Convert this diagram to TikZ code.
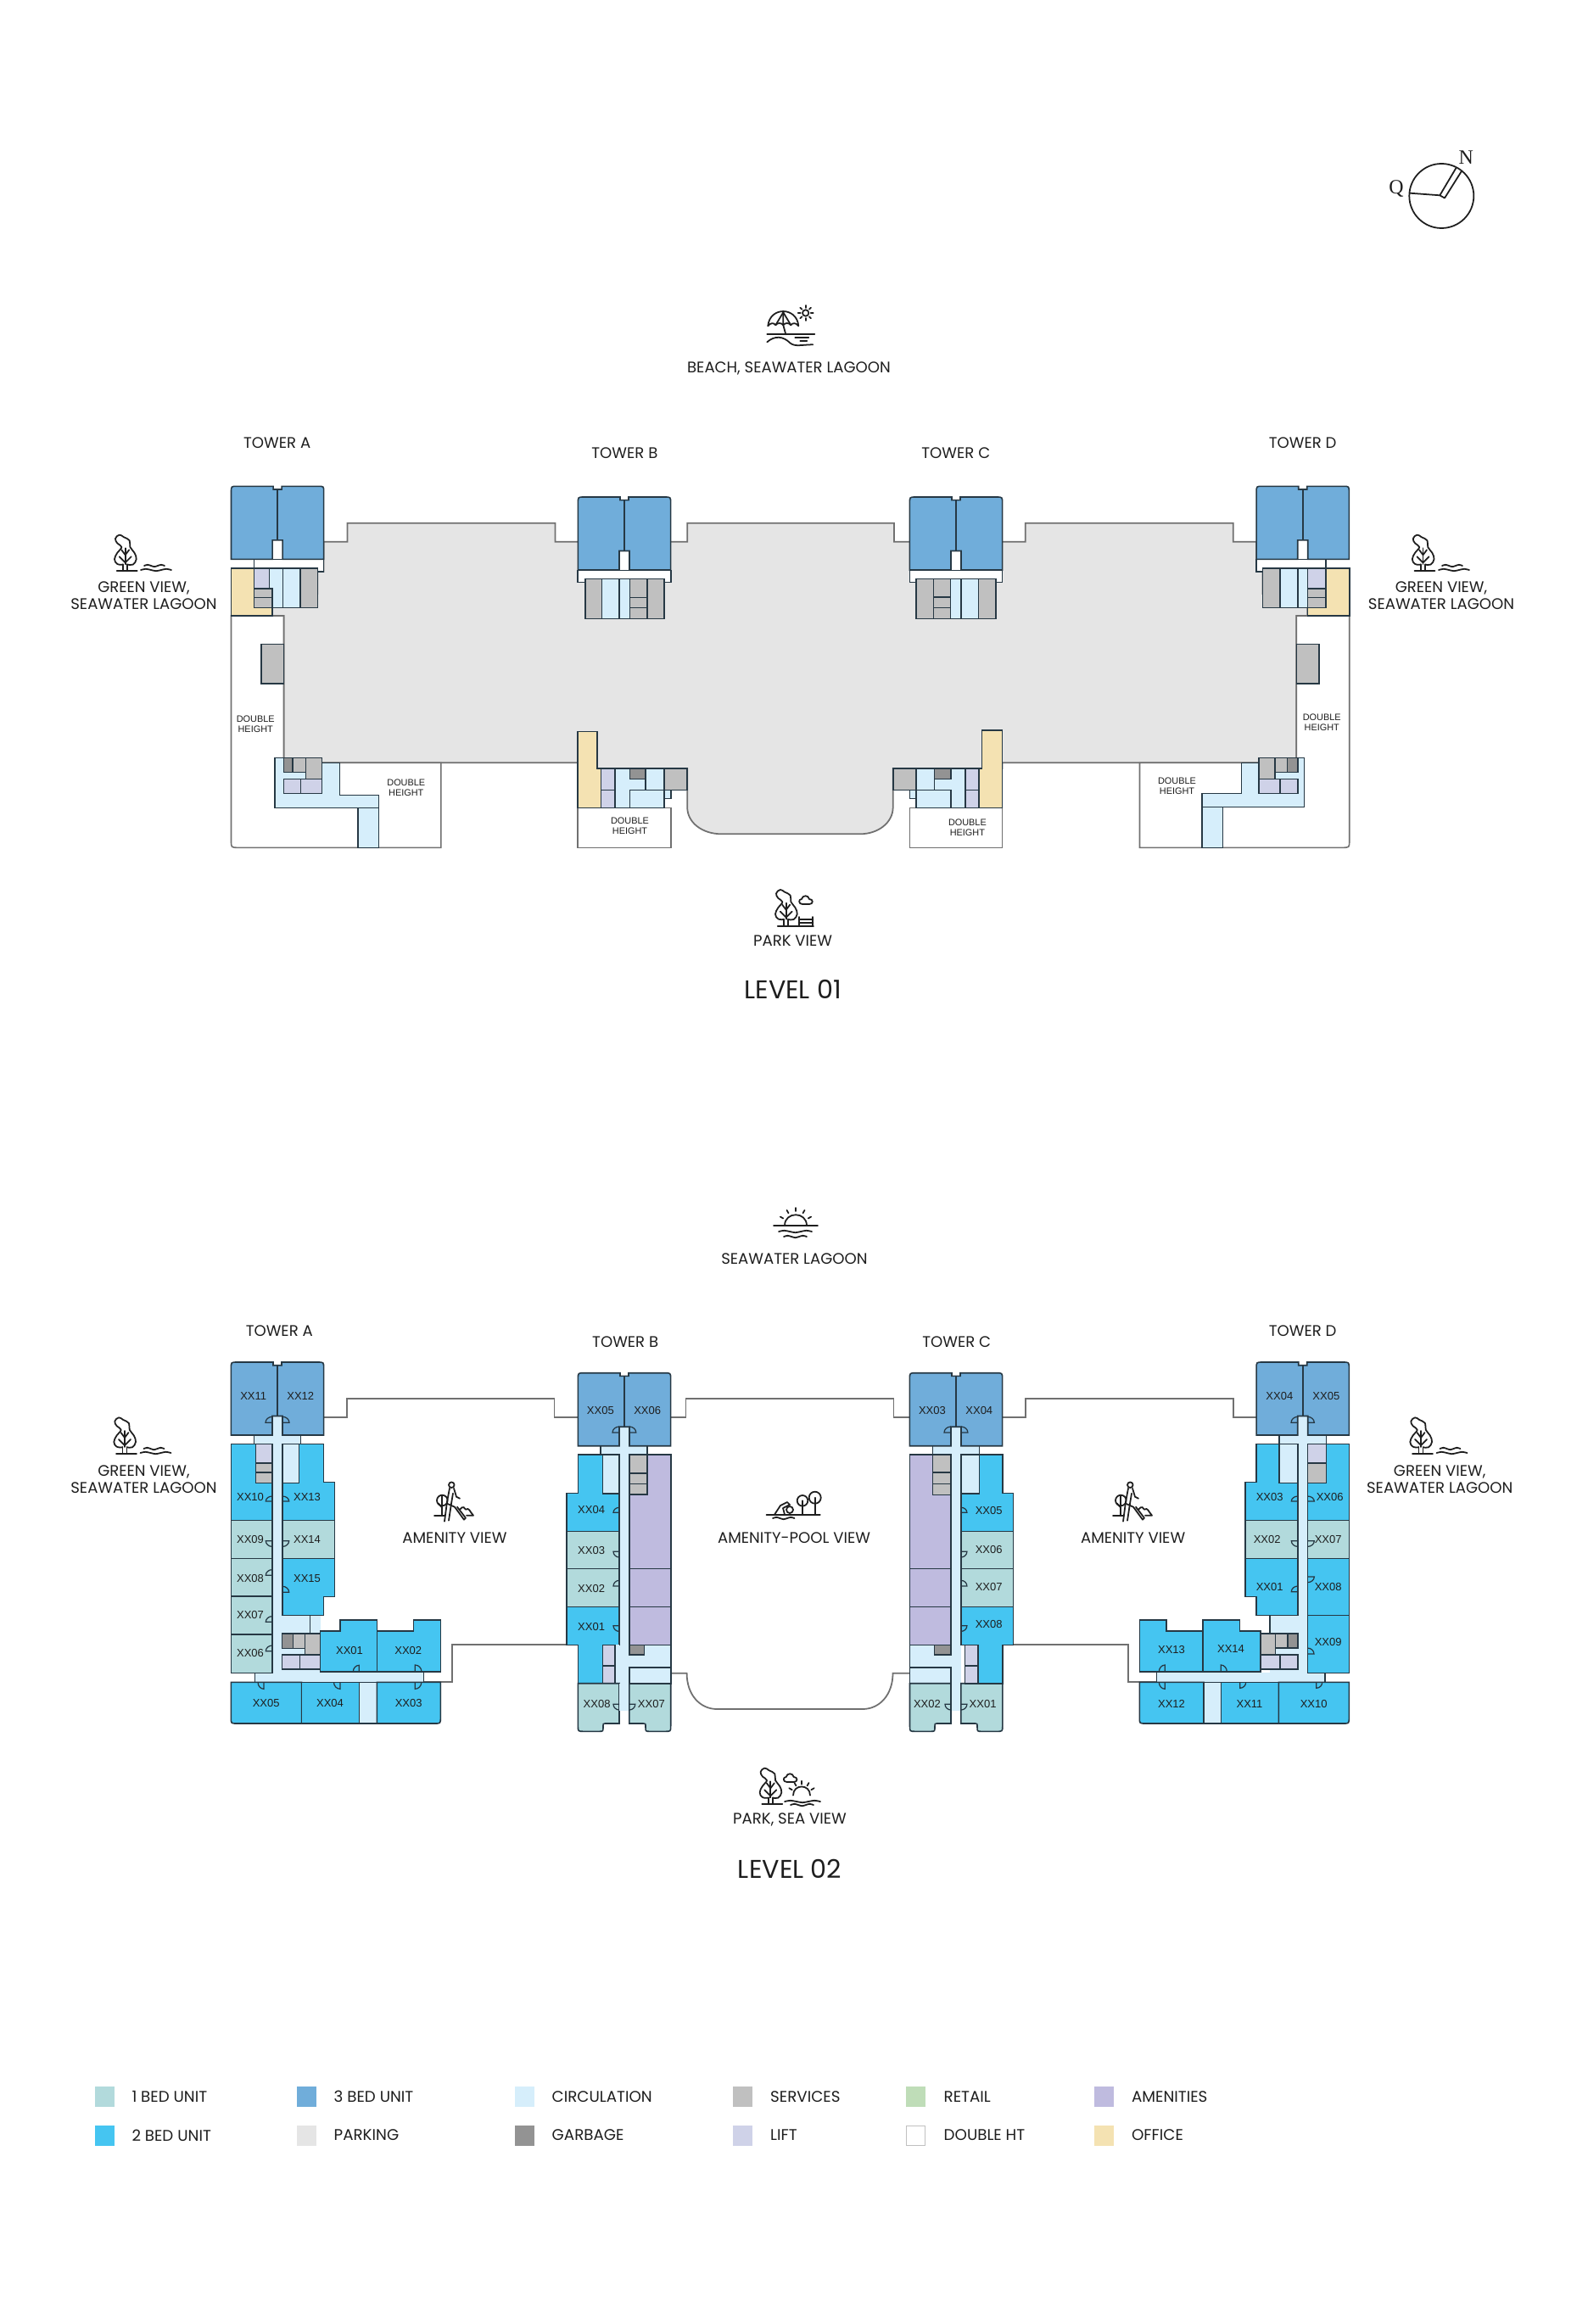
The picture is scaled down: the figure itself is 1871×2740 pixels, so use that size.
\documentclass[tikz,border=0pt]{standalone}
\usepackage{fontspec}
\setmainfont{Poppins}
\newfontfamily\unitfont{Liberation Sans}
\newfontfamily\compassfont{Liberation Serif}
\definecolor{planLine}{RGB}{38,56,68}
\definecolor{planEdge}{RGB}{112,112,112}
\definecolor{planText}{RGB}{30,30,30}
\definecolor{planOneBed}{RGB}{178,218,220}
\definecolor{planTwoBed}{RGB}{69,197,241}
\definecolor{planThreeBed}{RGB}{112,173,218}
\definecolor{planCirc}{RGB}{214,238,251}
\definecolor{planServ}{RGB}{192,192,192}
\definecolor{planGarb}{RGB}{147,147,147}
\definecolor{planLift}{RGB}{207,210,232}
\definecolor{planAmen}{RGB}{191,187,223}
\definecolor{planRetail}{RGB}{191,221,184}
\definecolor{planOffice}{RGB}{244,226,178}
\definecolor{planPark}{RGB}{229,229,229}
\tikzset{
	room/.style={draw=planLine,line width=0.45pt,line join=miter},
	bedone/.style={room,fill=planOneBed},
	bedtwo/.style={room,fill=planTwoBed},
	bedthree/.style={room,fill=planThreeBed},
	circ/.style={room,fill=planCirc},
	circfill/.style={fill=planCirc},
	serv/.style={room,fill=planServ},
	garb/.style={room,fill=planGarb},
	lift/.style={room,fill=planLift},
	amen/.style={room,fill=planAmen},
	office/.style={room,fill=planOffice},
	parking/.style={draw=planEdge,line width=0.5pt,fill=planPark},
	edgeline/.style={draw=planEdge,line width=0.5pt},
	blank/.style={draw=planEdge,line width=0.45pt,fill=white},
	door/.style={draw=planLine,line width=0.35pt},
	icon/.style={draw=planText,line width=0.5pt,line cap=round,line join=round},
	view/.style={text=planText,align=center,inner sep=0pt,font=\fontsize{5.15}{5.75}\selectfont},
	level/.style={text=planText,inner sep=0pt,font=\fontsize{8.6}{9}\selectfont},
	unit/.style={text=planText,inner sep=0pt,font=\unitfont\fontsize{3.7}{4}\selectfont},
	dbl/.style={text=planText,align=center,inner sep=0pt,font=\unitfont\fontsize{3.1}{3.4}\selectfont},
	keytext/.style={text=planText,anchor=west,inner sep=0pt,font=\fontsize{5.2}{5.5}\selectfont},
}
% Three bed block on top of every tower
\newcommand{\towerBlock}[2]{%
	\draw[bedthree,shift={(#1,#2)}] (-54.6,86) -- (-54.6,7) .. controls (-54.6,0) .. (-47.6,0) -- (-5,0) -- (-5,3.7) -- (5,3.7) -- (5,0) -- (47.6,0) .. controls (54.6,0) .. (54.6,7) -- (54.6,86) -- (6,86) -- (6,63.5) -- (-6,63.5) -- (-6,86) -- cycle;
	\draw[room,shift={(#1,#2)}] (0,3.7) -- (0,63.5);
}
% Door: hinge, leaf, wall
\newcommand{\doorMark}[6]{%
	\draw[door,shift={(#1,#2)}] (0,0) -- (#3,#4) .. controls ({#3+0.55*#5},{#4+0.55*#6}) and ({0.55*#3+#5},{0.55*#4+#6}) .. (#5,#6);
}
% Icons
\newcommand{\treeIcon}[2]{%
	\begin{scope}[shift={(#1,#2)},icon]
		\draw plot[smooth,tension=0.7] coordinates {(-2.7,-7.7) (-9.3,-8.3) (-12.7,-14) (-9.3,-21.7) (-4.3,-28.3) (-9.3,-32.7) (-11.7,-38.3) (-7,-42.7) (-1.7,-40) (5,-36) (5.7,-28.3) (10.7,-21.7) (13,-14) (9,-7.7) (3,-7.7)};
		\draw (-2.5,0) -- (-2.5,-8);
		\draw (2.5,0) -- (2.5,-8);
		\draw (0,-8) -- (0,-27);
		\draw (-7,-17) -- (0,-10) -- (7,-17);
		\draw (-4.5,-25) -- (0,-19) -- (4.5,-25);
		\draw (-10,0) -- (14,0);
	\end{scope}
}
\newcommand{\cloudIcon}[2]{%
	\draw[icon,shift={(#1,#2)}] (-4,5) .. controls (-9,5) and (-9,-1) .. (-5,-1) .. controls (-4,-6) and (3,-6) .. (4,-1) .. controls (9,-1) and (9,5) .. (4,5) -- cycle;
}
\newcommand{\waveIcon}[3]{%
	\draw[icon,shift={(#1,#2)},xscale=#3,yscale=0.6] plot[smooth] coordinates {(0,0) (5,-2) (10,0) (15,2) (20,0) (25,-2) (30,0)};
}
\newcommand{\sunRays}[5]{%
	\foreach \a in {#5} \draw[icon,shift={(#1,#2)}] ({#3*cos(\a)},{-#3*sin(\a)}) -- ({#4*cos(\a)},{-#4*sin(\a)});
}
\newcommand{\runnerIcon}[2]{%
	\begin{scope}[shift={(#1,#2)},icon]
		\draw (9.3,-17.7) circle (6.3);
		\draw (9.3,-24) -- (9.3,0);
		\draw (5,-14) -- (9.3,-9);
		\draw (0,0) -- (12,0);
		\draw (20.3,-36) circle (3.3);
		\draw (18,-32) -- (15,-16) -- (12,7);
		\draw (23,-32) -- (26,-22) -- (30,-20);
		\draw (22,-26) -- (20,-14) -- (17,6);
		\draw (15,-14) -- (24,-10) -- (35,5) -- (37,3) -- (27,-10);
		\draw (30,-7) .. controls (34,-12) and (36,-9) .. (37,-7) .. controls (41,-10) and (42,-4) .. (46,0) -- (38,0);
	\end{scope}
}
\begin{document}
\begin{tikzpicture}[x=0.01cm,y=-0.01cm]
	\useasboundingbox[fill=white] (0,0) rectangle (1871,2740);

	% Compass
	\node[inner sep=0pt,font=\compassfont\fontsize{6.8}{7}\selectfont,text=planText] (compassQ) at (1646,222.7) {Q};
	\node[inner sep=0pt,font=\compassfont\fontsize{6.8}{7}\selectfont,text=planText] (compassN) at (1728.3,186) {N};
	\draw[icon] (1699.3,231) circle (38);
	\draw[icon] (1662,227.7) -- (1697.3,230.3) -- (1716.3,198.3);
	\draw[icon] (1697.3,230.3) -- (1703,233.5) -- (1723,201.7);

	% LEVEL 01
	% Parking
	\draw[parking] (381.6,638.7) -- (409.5,638.7) -- (409.5,616.7) -- (654.5,616.7) -- (654.5,638.7) -- (681.2,638.7) -- (790.7,638.7) -- (810.2,638.7) -- (810.2,616.7) -- (1053.9,616.7) -- (1053.9,638.7) -- (1072.5,638.7) -- (1181.6,638.7) -- (1208.8,638.7) -- (1208.8,616.7) -- (1453.7,616.7) -- (1453.7,638.7) -- (1481.2,638.7) -- (1481.2,674) -- (1488.5,674) -- (1488.5,700) -- (1541.3,700) -- (1541.3,726) -- (1528.3,726) -- (1528.3,899.3) -- (1181.6,899.3) -- (1181.6,906) -- (1052.7,906) -- (1052.7,951.7) .. controls (1052.7,970) and (1035,983.3) .. (1013.9,983.3) -- (850.6,983.3) .. controls (828,983.3) and (810.2,970) .. (810.2,951.7) -- (810.2,906) -- (681.2,906) -- (681.2,899.3) -- (334.5,899.3) -- (334.5,726) -- (321,726) -- (321,700) -- (374.3,700) -- (374.3,674) -- (381.6,674) -- cycle;

	% Double height
	\draw[blank] (334.5,726) -- (272.5,726) -- (272.5,991) .. controls (272.5,999.3) .. (280.8,999.3) -- (519.8,999.3) -- (519.8,899.3) -- (334.5,899.3) -- cycle;
	\draw[blank] (1528.3,726) -- (1590.7,726) -- (1590.7,991) .. controls (1590.7,999.3) .. (1582.4,999.3) -- (1343.5,999.3) -- (1343.5,899.3) -- (1528.3,899.3) -- cycle;
	\draw[blank] (681.2,952.7) rectangle (790.7,999.3);
	\draw[blank] (1072.5,952.7) rectangle (1181.6,999.3);
	\node[dbl] (dblA1) at (301.2,853.3) {DOUBLE\\HEIGHT};
	\node[dbl] (dblA2) at (478.8,928.7) {DOUBLE\\HEIGHT};
	\node[dbl] (dblB) at (742.5,973.3) {DOUBLE\\HEIGHT};
	\node[dbl] (dblC) at (1140.4,976) {DOUBLE\\HEIGHT};
	\node[dbl] (dblD1) at (1387.5,926.7) {DOUBLE\\HEIGHT};
	\node[dbl] (dblD2) at (1558.2,851.7) {DOUBLE\\HEIGHT};

	% Tower A
	\fill[white] (321,637) rectangle (333.4,672);
	\draw[room,fill=white] (299.7,659.3) -- (381.6,659.3) -- (381.6,674) -- (374.3,674) -- (374.3,670) -- (299.7,670) -- cycle;
	\towerBlock{327.1}{573.3}
	\draw[office] (272.5,670) -- (299.7,670) -- (299.7,716.7) -- (321,716.7) -- (321,726) -- (272.5,726) -- cycle;
	\draw[circ] (317.7,670) rectangle (333.4,716.7);
	\draw[circ] (333.4,670) rectangle (354,716.7);
	\draw[serv] (354,670) rectangle (374.3,716.7);
	\draw[lift] (299.7,670) rectangle (317.7,694);
	\draw[serv] (299.7,694) rectangle (321,704.7);
	\draw[serv] (299.7,704.7) rectangle (321,716.7);
	\draw[serv] (308,759.3) rectangle (334.5,806);
	\draw[circ] (324.2,893.3) -- (379.3,893.3) -- (379.3,899.3) -- (400.7,899.3) -- (400.7,937.3) -- (446.3,937.3) -- (446.3,952.7) -- (324.2,952.7) -- cycle;
	\draw[circ] (421.8,952.7) rectangle (446.3,999.3);
	\draw[garb] (334.5,893.3) rectangle (345.2,910.7);
	\draw[serv] (345.2,893.3) rectangle (360.6,910.7);
	\draw[serv] (360.6,893.3) rectangle (379.3,918.3);
	\draw[lift] (334.5,918.3) rectangle (354.4,935.7);
	\draw[lift] (354.4,918.3) rectangle (379.3,935.7);

	% Tower B
	\fill[white] (730,649) rectangle (742,684);
	\draw[room,fill=white] (681.2,672.3) -- (790.7,672.3) -- (790.7,686.7) -- (783,686.7) -- (783,682.7) -- (689.7,682.7) -- (689.7,686.7) -- (681.2,686.7) -- cycle;
	\towerBlock{736}{586}
	\draw[serv] (689.7,682.7) rectangle (709.6,729.3);
	\draw[circ] (709.6,682.7) rectangle (729.9,729.3);
	\draw[circ] (729.9,682.7) rectangle (742.5,729.3);
	\draw[serv] (742.5,682.7) rectangle (762.8,704.3);
	\draw[serv] (742.5,704.3) rectangle (762.8,716.7);
	\draw[serv] (742.5,716.7) rectangle (762.8,729.3);
	\draw[serv] (762.8,682.7) rectangle (783,729.3);
	\draw[office] (681.2,862.7) -- (704.2,862.7) -- (704.2,906) -- (708.4,906) -- (708.4,952.7) -- (681.2,952.7) -- cycle;
	\draw[lift] (708.4,906) rectangle (724.9,931.7);
	\draw[lift] (708.4,931.7) rectangle (724.9,952.7);
	\draw[circ] (724.9,906) rectangle (783,952.7);
	\draw[garb] (742.5,906) rectangle (761.2,918.3);
	\draw[room] (761.2,918.3) -- (761.2,931.7);
	\draw[room] (783,931.7) -- (742.5,931.7) -- (742.5,952.7);
	\draw[serv] (783,906) rectangle (810.2,931.7);
	\draw[circ] (783,931.7) rectangle (790.7,941.7);

	% Tower C
	\fill[white] (1121,649) rectangle (1133,684);
	\draw[room,fill=white] (1072.5,672.3) -- (1181.6,672.3) -- (1181.6,686.7) -- (1173.9,686.7) -- (1173.9,682.7) -- (1080,682.7) -- (1080,686.7) -- (1072.5,686.7) -- cycle;
	\towerBlock{1127}{586}
	\draw[serv] (1080,682.3) rectangle (1100.4,729.3);
	\draw[serv] (1100.4,682.3) rectangle (1120.4,704);
	\draw[serv] (1100.4,704) rectangle (1120.4,716.7);
	\draw[serv] (1100.4,716.7) rectangle (1120.4,729.3);
	\draw[circ] (1120.4,682.3) rectangle (1133,729.3);
	\draw[circ] (1133,682.3) rectangle (1153.5,729.3);
	\draw[serv] (1153.5,682.3) rectangle (1173.9,729.3);
	\draw[office] (1157.6,861) -- (1181.6,861) -- (1181.6,952.7) -- (1153.9,952.7) -- (1153.9,906) -- (1157.6,906) -- cycle;
	\draw[lift] (1138,906) rectangle (1153.9,931.7);
	\draw[lift] (1138,931.7) rectangle (1153.9,952.7);
	\draw[circ] (1080,906) rectangle (1138,952.7);
	\draw[garb] (1101.6,906) rectangle (1120.8,918.3);
	\draw[room] (1101.6,918.3) -- (1101.6,931.7);
	\draw[room] (1080,931.7) -- (1120.8,931.7) -- (1120.8,952.7);
	\draw[serv] (1052.7,906) rectangle (1080,931.7);
	\draw[circ] (1072.5,931.7) rectangle (1080,941.7);

	% Tower D
	\fill[white] (1529.9,637) rectangle (1541.3,672);
	\draw[room,fill=white] (1481.2,659.3) -- (1563.1,659.3) -- (1563.1,670) -- (1488.5,670) -- (1488.5,674) -- (1481.2,674) -- cycle;
	\towerBlock{1535.7}{573.3}
	\draw[office] (1590.7,670) -- (1563.1,670) -- (1563.1,716.7) -- (1541.3,716.7) -- (1541.3,726) -- (1590.7,726) -- cycle;
	\draw[serv] (1488.5,670) rectangle (1508.8,716.7);
	\draw[circ] (1508.8,670) rectangle (1529.9,716.7);
	\draw[circ] (1529.9,670) rectangle (1541.3,716.7);
	\draw[lift] (1541.3,670) rectangle (1563.1,694);
	\draw[serv] (1541.3,694) rectangle (1563.1,704.7);
	\draw[serv] (1541.3,704.7) rectangle (1563.1,716.7);
	\draw[serv] (1528.3,759.3) rectangle (1554.7,806);
	\draw[circ] (1537.5,893.3) -- (1484,893.3) -- (1484,899.3) -- (1463.6,899.3) -- (1463.6,935.7) -- (1417,935.7) -- (1417,951.3) -- (1537.5,951.3) -- cycle;
	\draw[circ] (1417,951.3) rectangle (1441.4,999.3);
	\draw[serv] (1484,893.3) rectangle (1503,918.3);
	\draw[serv] (1503,893.3) rectangle (1517.6,910.7);
	\draw[garb] (1517.6,893.3) rectangle (1529.9,910.7);
	\draw[lift] (1484,918.3) rectangle (1508.8,935.7);
	\draw[lift] (1508.8,918.3) rectangle (1530.2,935.7);

	% Set names
	\node[view] (nameA1) at (326.7,522.4) {TOWER A};
	\node[view] (nameB1) at (736.4,534.6) {TOWER B};
	\node[view] (nameC1) at (1126.8,534.6) {TOWER C};
	\node[view] (nameD1) at (1535.6,522.4) {TOWER D};
	\node[view] (viewTop1) at (930,434) {BEACH, SEAWATER LAGOON};
	\node[view] (viewLeft1) at (169.5,702) {GREEN VIEW,\\SEAWATER LAGOON};
	\node[view] (viewRight1) at (1699,702) {GREEN VIEW,\\SEAWATER LAGOON};
	\node[view] (viewBottom1) at (934.6,1109.3) {PARK VIEW};
	\node[level] (level1) at (934.6,1166) {LEVEL 01};

	% View icons
	\treeIcon{147.7}{673.3}
	\waveIcon{166}{672}{1.2}
	\waveIcon{170}{667}{0.8}
	\treeIcon{1677.5}{673.3}
	\waveIcon{1696}{672}{1.2}
	\waveIcon{1700}{667}{0.8}
	\treeIcon{926.7}{1091.7}
	\cloudIcon{950}{1061}
	\draw[icon] (941.5,1084) -- (958.5,1084);
	\draw[icon] (941.5,1088) -- (958.5,1088);
	\draw[icon] (942,1081) -- (942,1091.7);
	\draw[icon] (958,1081) -- (958,1091.7);
	\draw[icon] (935,1091.7) -- (959,1091.7);
	% Beach umbrella
	\begin{scope}[shift={(923.3,394.3)},icon]
		\draw (-18,-10) .. controls (-16,-33) and (16,-33) .. (18,-10);
		\draw (-18,-10) .. controls (-15,-14) and (-11,-14) .. (-9,-11) .. controls (-7,-14) and (-2,-14) .. (0,-11) .. controls (2,-14) and (7,-14) .. (9,-11) .. controls (11,-14) and (15,-14) .. (18,-10);
		\draw (-9,-11) -- (0,-26) -- (9,-11);
		\draw (0,-26) -- (0,-11) -- (3,0);
		\draw (-19,0) -- (37,0);
		\draw (26.4,-25.3) circle (3.7);
		\draw (-19,9) .. controls (-10,1) and (0,2) .. (8,10) .. controls (14,15) and (22,12) .. (35,12);
		\draw (14,4) -- (30,4);
		\draw (20,8) -- (28,8);
	\end{scope}
	\sunRays{949.7}{369}{6}{9}{0,45,90,135,180,225,270,315}

	% LEVEL 02
	% Outlines
	\draw[edgeline] (381.7,1670.7) -- (409,1670.7) -- (409,1649) -- (653.6,1649) -- (653.6,1670.7) -- (681.4,1670.7);
	\draw[edgeline] (790.7,1670.7) -- (808.6,1670.7) -- (808.6,1649) -- (1053.6,1649) -- (1053.6,1670.7) -- (1072.5,1670.7);
	\draw[edgeline] (1181.8,1670.7) -- (1209,1670.7) -- (1209,1649) -- (1454.3,1649) -- (1454.3,1670.7) -- (1481,1670.7);
	\draw[edgeline] (499.3,1983.3) -- (532.7,1983.3) -- (532.7,1939.3) -- (668.2,1939.3);
	\draw[edgeline] (1194.6,1939.3) -- (1330,1939.3) -- (1330,1983.3) -- (1363.3,1983.3);
	\draw[edgeline] (790.7,1972.7) -- (809.6,1972.7) .. controls (809.6,1998) and (825,2015) .. (845.4,2015) -- (1016.8,2015) .. controls (1037,2015) and (1052.5,1998) .. (1052.5,1972.7) -- (1072.5,1972.7);

	% Tower A
	\fill[circfill] (321,1669) rectangle (333,1983.3);
	\fill[circfill] (299.3,1691.7) rectangle (354.3,1702.3);
	\fill[circfill] (300.7,1972.3) rectangle (499.3,1983.3);
	\fill[circfill] (333,1904.3) rectangle (377.7,1972.3);
	\draw[room] (299.3,1691.7) -- (299.3,1702.3);
	\draw[room] (354.3,1691.7) -- (354.3,1702.3);
	\draw[room] (300.7,1972.3) -- (300.7,1983.3);
	\draw[room] (499.3,1972.3) -- (499.3,1983.3);
	\draw[room] (365.7,1904.3) -- (365.7,1925.7);
	\towerBlock{327}{1606}
	\draw[bedtwo] (272.3,1702.3) rectangle (321,1792.3);
	\draw[lift] (301.3,1702.3) rectangle (321,1725);
	\draw[serv] (301.3,1725) rectangle (321,1736);
	\draw[serv] (301.3,1736) rectangle (321,1748.3);
	\draw[bedone] (272.3,1792.3) rectangle (321,1837.3);
	\draw[bedone] (272.3,1837.3) rectangle (321,1882);
	\draw[bedone] (272.3,1882) rectangle (321,1926.7);
	\draw[bedone] (272.3,1926.7) rectangle (321,1972.3);
	\draw[bedtwo] (333,1748.3) -- (352.7,1748.3) -- (352.7,1702.3) -- (381.7,1702.3) -- (381.7,1747.3) -- (394.7,1747.3) -- (394.7,1792.3) -- (333,1792.3) -- cycle;
	\draw[circ] (333,1702.3) rectangle (352.7,1748.3);
	\draw[bedone] (333,1792.3) rectangle (394.7,1837.3);
	\draw[bedtwo] (333,1837.3) -- (394.7,1837.3) -- (394.7,1882.3) -- (381.7,1882.3) -- (381.7,1904.3) -- (333,1904.3) -- cycle;
	\draw[garb] (332.3,1925.7) rectangle (345.7,1943.3);
	\draw[serv] (345.7,1925.7) rectangle (359.3,1943.3);
	\draw[serv] (359.3,1925.7) rectangle (377.7,1950.7);
	\draw[lift] (332.3,1950.7) rectangle (353.7,1967.7);
	\draw[lift] (353.7,1950.7) rectangle (377.7,1967.7);
	\draw[bedtwo] (377.7,1922.7) -- (401,1922.7) -- (401,1909.7) -- (444.7,1909.7) -- (444.7,1971) -- (377.7,1971) -- cycle;
	\draw[bedtwo] (444.7,1922.7) -- (487.7,1922.7) -- (487.7,1909.7) -- (519.3,1909.7) -- (519.3,1971) -- (444.7,1971) -- cycle;
	\draw[bedtwo] (355.7,1983.3) -- (272.3,1983.3) -- (272.3,2025) .. controls (272.3,2032) .. (279.3,2032) -- (355.7,2032) -- cycle;
	\draw[bedtwo] (355.7,1983.3) rectangle (423.3,2032);
	\draw[circ] (423.3,1983.3) rectangle (444.3,2032);
	\draw[bedtwo] (444.3,1983.3) -- (519.3,1983.3) -- (519.3,2025) .. controls (519.3,2032) .. (512.3,2032) -- (444.3,2032) -- cycle;
	\doorMark{321}{1677.3}{-8}{0}{0}{-7}
	\doorMark{333}{1677.3}{8}{0}{0}{-7}
	\doorMark{321}{1770}{-7.7}{0}{0}{-6}
	\doorMark{333}{1770}{7.7}{0}{0}{-6}
	\doorMark{321}{1816.7}{-7.7}{0}{0}{6.7}
	\doorMark{333}{1816.7}{7.7}{0}{0}{6.7}
	\doorMark{321}{1857.3}{-7.7}{0}{0}{-6.7}
	\doorMark{333}{1877.3}{7.7}{0}{0}{-7}
	\doorMark{321}{1912.3}{-7.7}{0}{0}{-6.7}
	\doorMark{321}{1946.7}{-7.7}{0}{0}{-6.7}
	\doorMark{423.3}{1971}{0}{-7.7}{-7}{0}
	\doorMark{489.3}{1971}{0}{-8}{7.7}{0}
	\doorMark{311}{1983.3}{0}{8}{-7}{0}
	\doorMark{401}{1983.3}{0}{8}{-7.5}{0}
	\doorMark{489.3}{1983.3}{0}{8}{7.5}{0}
	\node[unit] (a11) at (298.7,1646) {XX11};
	\node[unit] (a12) at (354.3,1646) {XX12};
	\node[unit] (a10) at (295,1765) {XX10};
	\node[unit] (a13) at (362,1765) {XX13};
	\node[unit] (a09) at (295,1815) {XX09};
	\node[unit] (a14) at (362,1815) {XX14};
	\node[unit] (a08) at (295,1860.7) {XX08};
	\node[unit] (a15) at (362,1860.7) {XX15};
	\node[unit] (a07) at (295,1904.3) {XX07};
	\node[unit] (a06) at (295,1949) {XX06};
	\node[unit] (a01) at (412,1945.7) {XX01};
	\node[unit] (a02) at (481.3,1945.7) {XX02};
	\node[unit] (a05) at (313.7,2007.7) {XX05};
	\node[unit] (a04) at (389,2007.7) {XX04};
	\node[unit] (a03) at (481.7,2007.7) {XX03};

	% Tower B
	\fill[circfill] (730,1681.7) rectangle (741.8,2017.3);
	\fill[circfill] (708.2,1704.3) rectangle (763.2,1715);
	\draw[room] (708.2,1704.3) -- (708.2,1715);
	\draw[room] (763.2,1704.3) -- (763.2,1715);
	\towerBlock{736}{1618.7}
	\draw[circ] (710.4,1715) rectangle (730,1761);
	\draw[bedtwo] (681.4,1715) -- (710.4,1715) -- (710.4,1761) -- (730,1761) -- (730,1805.3) -- (668.2,1805.3) -- (668.2,1760.3) -- (681.4,1760.3) -- cycle;
	\draw[bedone] (668.2,1805.3) rectangle (730,1849.3);
	\draw[bedone] (668.2,1849.3) rectangle (730,1894.3);
	\draw[bedtwo] (668.2,1894.3) -- (730,1894.3) -- (730,1939.3) -- (710.4,1939.3) -- (710.4,1984.7) -- (681.4,1984.7) -- (681.4,1939.3) -- (668.2,1939.3) -- cycle;
	\fill[circfill] (725,1939.3) rectangle (730,1984.7);
	\draw[lift] (710.4,1939.3) rectangle (725,1964);
	\draw[lift] (710.4,1964) rectangle (725,1984.7);
	\draw[bedone] (730,1984.7) -- (730,2032) -- (713.3,2032) .. controls (711,2032) .. (711,2036) .. controls (711,2041.3) .. (706,2041.3) -- (688,2041.3) .. controls (681.4,2041.3) .. (681.4,2035) -- (681.4,1984.7) -- cycle;
	\fill[circfill] (730,1984.7) rectangle (741.8,2017.3);
	\draw[bedone] (741.8,1984.7) -- (741.8,2032) -- (758.5,2032) .. controls (761,2032) .. (761,2036) .. controls (761,2041.3) .. (766,2041.3) -- (784,2041.3) .. controls (790.7,2041.3) .. (790.7,2035) -- (790.7,1984.7) -- cycle;
	\draw[amen] (741.8,1715) rectangle (790.7,1849.3);
	\draw[amen] (741.8,1849.3) rectangle (790.7,1894.3);
	\draw[amen] (741.8,1894.3) rectangle (790.7,1939.3);
	\draw[serv] (741.8,1715) rectangle (763.2,1736.7);
	\draw[serv] (741.8,1736.7) rectangle (763.2,1749.3);
	\draw[serv] (741.8,1749.3) rectangle (763.2,1761.7);
	\draw[circ] (759.6,1939.3) rectangle (790.7,1965.7);
	\fill[circfill] (741.8,1951) rectangle (759.6,1965.7);
	\draw[garb] (741.8,1939.3) rectangle (759.6,1951);
	\draw[circ] (741.8,1965.7) rectangle (790.7,1984.7);
	\doorMark{730}{1689}{-8}{0}{0}{-7}
	\doorMark{741.8}{1689}{8}{0}{0}{-7}
	\doorMark{730}{1783.3}{-7}{0}{0}{-6}
	\doorMark{730}{1829.3}{-7}{0}{0}{6.7}
	\doorMark{730}{1870}{-7}{0}{0}{-6.7}
	\doorMark{730}{1916.7}{-7}{0}{0}{6.7}
	\doorMark{730}{2009.3}{-7}{0}{0}{6.7}
	\doorMark{741.8}{2009.3}{7}{0}{0}{6.7}
	\node[unit] (b05) at (707.9,1662.7) {XX05};
	\node[unit] (b06) at (763.2,1662.7) {XX06};
	\node[unit] (b04) at (697.1,1780.3) {XX04};
	\node[unit] (b03) at (697.1,1827.7) {XX03};
	\node[unit] (b02) at (697.1,1872.7) {XX02};
	\node[unit] (b01) at (697.1,1918) {XX01};
	\node[unit] (b08) at (703.6,2009.3) {XX08};
	\node[unit] (b07) at (767.9,2009.3) {XX07};

	% Tower C
	\fill[circfill] (1121,1681.7) rectangle (1132.9,2017.3);
	\fill[circfill] (1099.6,1704.3) rectangle (1154.6,1715);
	\draw[room] (1099.6,1704.3) -- (1099.6,1715);
	\draw[room] (1154.6,1704.3) -- (1154.6,1715);
	\towerBlock{1127}{1618.7}
	\draw[amen] (1072.5,1715) rectangle (1121,1849.3);
	\draw[amen] (1072.5,1849.3) rectangle (1121,1894.3);
	\draw[amen] (1072.5,1894.3) rectangle (1121,1939.3);
	\draw[serv] (1099.6,1715) rectangle (1121,1736);
	\draw[serv] (1099.6,1736) rectangle (1121,1749.3);
	\draw[serv] (1099.6,1749.3) rectangle (1121,1762.3);
	\draw[circ] (1072.5,1939.3) rectangle (1101.4,1965.7);
	\fill[circfill] (1101.4,1951) rectangle (1121,1965.7);
	\draw[garb] (1101.4,1939.3) rectangle (1121,1951);
	\draw[circ] (1072.5,1965.7) rectangle (1121,1984.7);
	\draw[bedone] (1121,1984.7) -- (1121,2032) -- (1104.3,2032) .. controls (1102,2032) .. (1102,2036) .. controls (1102,2041.3) .. (1097,2041.3) -- (1079,2041.3) .. controls (1072.5,2041.3) .. (1072.5,2035) -- (1072.5,1984.7) -- cycle;
	\draw[bedone] (1132.9,1984.7) -- (1132.9,2032) -- (1149.6,2032) .. controls (1152,2032) .. (1152,2036) .. controls (1152,2041.3) .. (1157,2041.3) -- (1175,2041.3) .. controls (1181.8,2041.3) .. (1181.8,2035) -- (1181.8,1984.7) -- cycle;
	\draw[bedtwo] (1132.9,1761) -- (1154.6,1761) -- (1154.6,1715) -- (1181.8,1715) -- (1181.8,1760.3) -- (1194.6,1760.3) -- (1194.6,1805.3) -- (1132.9,1805.3) -- cycle;
	\draw[circ] (1132.9,1715) rectangle (1154.6,1761);
	\draw[bedone] (1132.9,1805.3) rectangle (1194.6,1849.3);
	\draw[bedone] (1132.9,1849.3) rectangle (1194.6,1894.3);
	\draw[bedtwo] (1132.9,1894.3) -- (1194.6,1894.3) -- (1194.6,1939.3) -- (1181.8,1939.3) -- (1181.8,1984.7) -- (1153.2,1984.7) -- (1153.2,1939.3) -- (1132.9,1939.3) -- cycle;
	\draw[lift] (1137.5,1939.3) rectangle (1153.2,1964);
	\draw[lift] (1137.5,1964) rectangle (1153.2,1984.7);
	\doorMark{1121}{1689}{-8}{0}{0}{-7}
	\doorMark{1132.9}{1689}{8}{0}{0}{-7}
	\doorMark{1132.9}{1783.3}{7}{0}{0}{-6}
	\doorMark{1132.9}{1829.3}{7}{0}{0}{6.7}
	\doorMark{1132.9}{1870}{7}{0}{0}{-6.7}
	\doorMark{1132.9}{1916.7}{7}{0}{0}{6.7}
	\doorMark{1121}{2009.3}{-7}{0}{0}{6.7}
	\doorMark{1132.9}{2009.3}{7}{0}{0}{6.7}
	\node[unit] (c03) at (1098.9,1662.7) {XX03};
	\node[unit] (c04) at (1154.3,1662.7) {XX04};
	\node[unit] (c05) at (1165.7,1781.3) {XX05};
	\node[unit] (c06) at (1165.7,1826.7) {XX06};
	\node[unit] (c07) at (1165.7,1870.7) {XX07};
	\node[unit] (c08) at (1165.7,1915) {XX08};
	\node[unit] (c02) at (1092.9,2009.3) {XX02};
	\node[unit] (c01) at (1158.6,2009.3) {XX01};

	% Tower D
	\fill[circfill] (1530,1669) rectangle (1541.3,1983.3);
	\fill[circfill] (1508,1691.7) rectangle (1563.3,1702.3);
	\fill[circfill] (1363.3,1972.3) rectangle (1561.7,1983.3);
	\fill[circfill] (1496.7,1904.3) rectangle (1530,1972.3);
	\draw[room] (1508,1691.7) -- (1508,1702.3);
	\draw[room] (1563.3,1691.7) -- (1563.3,1702.3);
	\draw[room] (1363.3,1972.3) -- (1363.3,1983.3);
	\draw[room] (1561.7,1972.3) -- (1561.7,1983.3);
	\draw[room] (1496.7,1904.3) -- (1496.7,1925.7);
	\towerBlock{1535.7}{1606}
	\draw[bedtwo] (1481,1702.3) -- (1508,1702.3) -- (1508,1748.3) -- (1530,1748.3) -- (1530,1792.3) -- (1468,1792.3) -- (1468,1747.3) -- (1481,1747.3) -- cycle;
	\draw[circ] (1508,1702.3) rectangle (1530,1748.3);
	\draw[bedone] (1468,1792.3) rectangle (1530,1837.3);
	\draw[bedtwo] (1468,1837.3) -- (1530,1837.3) -- (1530,1904.3) -- (1481,1904.3) -- (1481,1882.3) -- (1468,1882.3) -- cycle;
	\draw[bedtwo] (1541.3,1702.3) rectangle (1590.3,1792.3);
	\draw[lift] (1541.3,1702.3) rectangle (1563.3,1725);
	\draw[serv] (1541.3,1725) rectangle (1563.3,1748.3);
	\draw[bedone] (1541.3,1792.3) rectangle (1590.3,1837.3);
	\draw[bedtwo] (1541.3,1837.3) rectangle (1590.3,1904.3);
	\draw[bedtwo] (1541.3,1904.3) rectangle (1590.3,1972.3);
	\draw[serv] (1485.7,1925.7) rectangle (1503.3,1950.7);
	\draw[serv] (1503.3,1925.7) rectangle (1517.7,1943);
	\draw[garb] (1517.7,1925.7) rectangle (1530,1943);
	\draw[lift] (1485.7,1950.7) rectangle (1508.7,1967.7);
	\draw[lift] (1508.7,1950.7) rectangle (1530,1967.7);
	\draw[bedtwo] (1343.3,1909.7) -- (1375,1909.7) -- (1375,1922.7) -- (1417.7,1922.7) -- (1417.7,1971) -- (1343.3,1971) -- cycle;
	\draw[bedtwo] (1417.7,1909.7) -- (1461.3,1909.7) -- (1461.3,1922.7) -- (1485.7,1922.7) -- (1485.7,1971) -- (1417.7,1971) -- cycle;
	\draw[bedtwo] (1419,1983.3) -- (1343.3,1983.3) -- (1343.3,2025) .. controls (1343.3,2032) .. (1350.3,2032) -- (1419,2032) -- cycle;
	\draw[circ] (1419,1983.3) rectangle (1439.3,2032);
	\draw[bedtwo] (1439.3,1983.3) rectangle (1507.3,2032);
	\draw[bedtwo] (1507.3,1983.3) -- (1590.3,1983.3) -- (1590.3,2025) .. controls (1590.3,2032) .. (1583.3,2032) -- (1507.3,2032) -- cycle;
	\doorMark{1530}{1677.3}{-8}{0}{0}{-7}
	\doorMark{1541.3}{1677.3}{8}{0}{0}{-7}
	\doorMark{1530}{1770}{-7.7}{0}{0}{-6}
	\doorMark{1541.3}{1770}{8}{0}{0}{-6}
	\doorMark{1530}{1816.7}{-7.7}{0}{0}{6.7}
	\doorMark{1541.3}{1816.7}{8}{0}{0}{6.7}
	\doorMark{1530}{1876.7}{-7.7}{0}{0}{-6.7}
	\doorMark{1541.3}{1859}{8}{0}{0}{6.7}
	\doorMark{1541.3}{1950}{7.7}{0}{0}{-7}
	\doorMark{1373.3}{1971}{0}{-8}{-7}{0}
	\doorMark{1439.3}{1971}{0}{-8}{7}{0}
	\doorMark{1373.3}{1983.3}{0}{8}{-7}{0}
	\doorMark{1461.7}{1983.3}{0}{7}{7}{0}
	\doorMark{1551.7}{1983.3}{0}{7}{7}{0}
	\node[unit] (d04) at (1508.3,1646) {XX04};
	\node[unit] (d05) at (1563.3,1646) {XX05};
	\node[unit] (d03) at (1496.7,1765) {XX03};
	\node[unit] (d06) at (1567.7,1765) {XX06};
	\node[unit] (d02) at (1493.7,1815) {XX02};
	\node[unit] (d07) at (1565.7,1815) {XX07};
	\node[unit] (d01) at (1496.7,1870.7) {XX01};
	\node[unit] (d08) at (1565.7,1870.7) {XX08};
	\node[unit] (d09) at (1565.7,1936.3) {XX09};
	\node[unit] (d13) at (1381,1945.3) {XX13};
	\node[unit] (d14) at (1451,1944) {XX14};
	\node[unit] (d12) at (1381,2009) {XX12};
	\node[unit] (d11) at (1473,2009) {XX11};
	\node[unit] (d10) at (1548.7,2009) {XX10};

	% Set names
	\node[view] (nameA2) at (329.3,1568.8) {TOWER A};
	\node[view] (nameB2) at (737.2,1582) {TOWER B};
	\node[view] (nameC2) at (1127.7,1582) {TOWER C};
	\node[view] (nameD2) at (1535.6,1568.8) {TOWER D};
	\node[view] (viewTop2) at (936.4,1484) {SEAWATER LAGOON};
	\node[view] (viewLeft2) at (169.5,1744) {GREEN VIEW,\\SEAWATER LAGOON};
	\node[view] (viewRight2) at (1697.2,1744) {GREEN VIEW,\\SEAWATER LAGOON};
	\node[view] (viewAmenA) at (536,1812.7) {AMENITY VIEW};
	\node[view] (viewPool) at (936,1812.7) {AMENITY-POOL VIEW};
	\node[view] (viewAmenD) at (1335.6,1812.7) {AMENITY VIEW};
	\node[view] (viewBottom2) at (931,2145) {PARK, SEA VIEW};
	\node[level] (level2) at (931,2203.8) {LEVEL 02};

	% View icons
	\treeIcon{147}{1714}
	\waveIcon{165.5}{1713}{1.2}
	\waveIcon{169.5}{1708}{0.8}
	\treeIcon{1675}{1714}
	\waveIcon{1693.5}{1713}{1.2}
	\waveIcon{1697.5}{1708}{0.8}
	\runnerIcon{512}{1786.7}
	\runnerIcon{1312}{1786.7}
	% Sunset
	\draw[icon] (925,1445) .. controls (925,1428) and (951,1428) .. (951,1445);
	\draw[icon] (912,1445) -- (964,1445);
	\sunRays{938}{1445}{17}{21}{30,60,90,120,150}
	\waveIcon{918}{1452}{1.3}
	\waveIcon{924}{1458}{0.9}
	% Swimmer and trees
	\draw[icon] (903.6,1785.7) -- (966.8,1785.7);
	\draw[icon] (946,1769.3) circle (6.3);
	\draw[icon] (946,1769.3) -- (946,1785.7);
	\draw[icon] (960.7,1765.7) circle (7);
	\draw[icon] (960.7,1765.7) -- (960.7,1785.7);
	\draw[icon] (931,1780) circle (4);
	\draw[icon] (913,1785.7) -- (920,1775) -- (928,1771) -- (931,1774) -- (923,1778) -- (925,1785.7);
	\waveIcon{911}{1790}{0.85}
	% Park and sea
	\treeIcon{908.3}{2127.3}
	\cloudIcon{931.7}{2096}
	\draw[icon] (935,2116.7) .. controls (935,2103) and (955,2103) .. (955,2116.7);
	\sunRays{945}{2116.7}{13}{17}{30,60,90,120,150}
	\waveIcon{925}{2124}{1.4}
	\waveIcon{932}{2128}{0.9}

	% Legend
	\fill[planOneBed] (112,2460) rectangle (135,2484);
	\fill[planThreeBed] (350.4,2460) rectangle (373.4,2484);
	\fill[planCirc] (606.6,2460) rectangle (629.6,2484);
	\fill[planServ] (863.7,2460) rectangle (886.7,2484);
	\fill[planRetail] (1068.2,2460) rectangle (1091.2,2484);
	\fill[planAmen] (1289.6,2460) rectangle (1312.6,2484);
	\fill[planTwoBed] (112,2505.7) rectangle (135,2529.7);
	\fill[planPark] (350.4,2505.7) rectangle (373.4,2529.7);
	\fill[planGarb] (606.6,2505.7) rectangle (629.6,2529.7);
	\fill[planLift] (863.7,2505.7) rectangle (886.7,2529.7);
	\draw[draw=planServ,line width=0.4pt] (1068.7,2506.2) rectangle (1090.7,2529.2);
	\fill[planOffice] (1289.6,2505.7) rectangle (1312.6,2529.7);
	\node[keytext] (keyOne) at (154.8,2472) {1 BED UNIT};
	\node[keytext] (keyThree) at (393,2472) {3 BED UNIT};
	\node[keytext] (keyCirc) at (650,2472) {CIRCULATION};
	\node[keytext] (keyServ) at (907.5,2472) {SERVICES};
	\node[keytext] (keyRetail) at (1112,2472) {RETAIL};
	\node[keytext] (keyAmen) at (1333.4,2472) {AMENITIES};
	\node[keytext] (keyTwo) at (154.8,2517.5) {2 BED UNIT};
	\node[keytext] (keyPark) at (393,2517.5) {PARKING};
	\node[keytext] (keyGarb) at (650,2517.5) {GARBAGE};
	\node[keytext] (keyLift) at (907.5,2517.5) {LIFT};
	\node[keytext] (keyDouble) at (1112,2517.5) {DOUBLE HT};
	\node[keytext] (keyOffice) at (1333.4,2517.5) {OFFICE};
\end{tikzpicture}
\end{document}
